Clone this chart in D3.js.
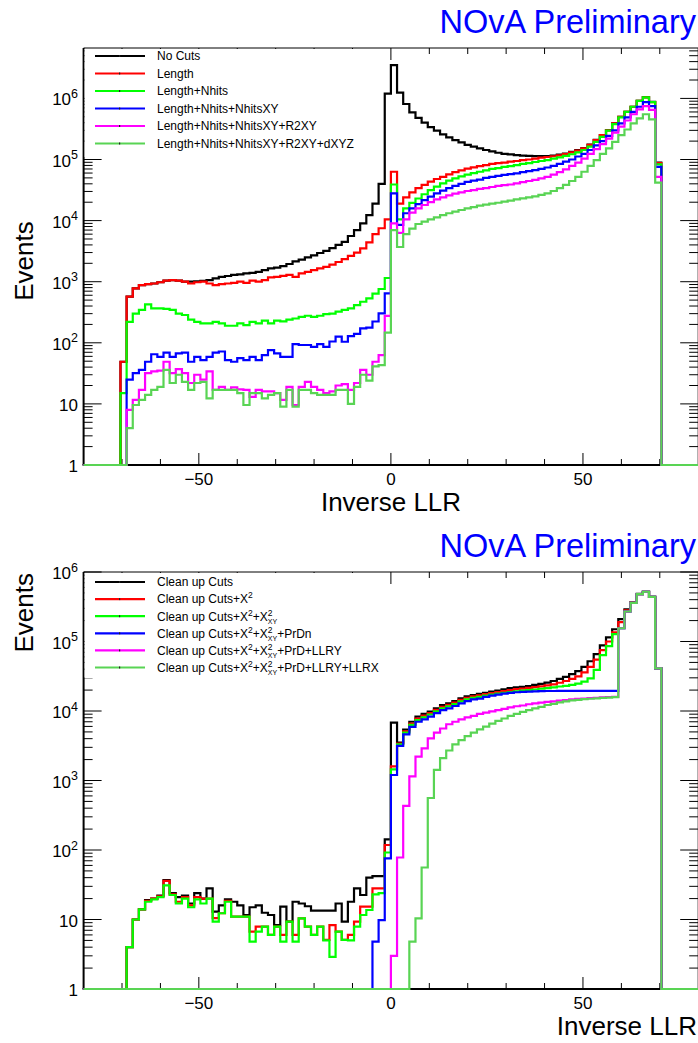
<!DOCTYPE html>
<html>
<head>
<meta charset="utf-8">
<title>Inverse LLR</title>
<script src="https://d3js.org/d3.v7.min.js"></script>
<style>
  body { margin: 0; background: #fff; }
  text { font-family: "Liberation Sans", Arial, Helvetica, sans-serif; }
</style>
</head>
<body>
<script>
// histogram binning: 100 bins from -80 to 80
var xMin = -80, xMax = 80, nBins = 100;

// ---- top pad : pre-selection cuts ----
var topLabels = ["No Cuts", "Length", "Length+Nhits", "Length+Nhits+NhitsXY",
  "Length+Nhits+NhitsXY+R2XY", "Length+Nhits+NhitsXY+R2XY+dXYZ"];
var topNoCuts = [0,0,0,0,0,0,49,570,780,880,
  915,935,980,1040,1060,1040,1000,1000,1010,1030,
  1060,1135,1200,1240,1290,1320,1370,1400,1450,1550,
  1650,1700,1800,1950,2150,2300,2500,2700,2950,3200,
  3550,4000,4500,5600,7000,9000,12300,19000,40000,1.2e6,
  3.5e6,1.24e6,8.1e5,5.9e5,4.8e5,4.0e5,3.4e5,2.96e5,2.58e5,2.3e5,
  2.08e5,1.9e5,1.74e5,1.62e5,1.52e5,1.43e5,1.36e5,1.29e5,1.24e5,1.21e5,
  1.18e5,1.16e5,1.15e5,1.14e5,1.14e5,1.14e5,1.16e5,1.2e5,1.25e5,1.33e5,
  1.42e5,1.54e5,1.76e5,2.1e5,2.52e5,3.02e5,3.92e5,5.0e5,6.0e5,7.3e5,
  9.1e5,1.05e6,8.8e5,89000,0,0,0,0,0,0];
var topLength = [0,0,0,0,0,0,49,570,780,880,
  915,935,980,1040,1060,1040,1000,935,980,1000,
  935,880,915,935,960,1000,960,1040,1000,1060,
  1180,1200,1250,1290,1200,1370,1450,1550,1650,1750,
  1900,2100,2350,2650,3000,3500,4400,6000,7500,10500,
  63000,19000,24000,29000,34000,38500,43500,48000,52000,57000,
  62000,66500,71000,74500,78000,81000,85000,87000,89000,92000,
  94500,98000,1.0e5,1.03e5,1.07e5,1.1e5,1.13e5,1.17e5,1.23e5,1.31e5,
  1.4e5,1.52e5,1.74e5,2.08e5,2.5e5,3.0e5,3.9e5,5.0e5,6.0e5,7.3e5,
  9.1e5,1.04e6,8.7e5,87000,0,0,0,0,0,0];
var topNhits = [0,0,0,0,0,0,15,220,300,345,
  425,365,365,360,345,300,285,240,220,208,
  208,220,208,190,190,208,195,220,208,230,
  208,230,225,240,250,265,277,265,277,295,
  300,325,345,365,415,470,535,640,760,1150,
  39000,10500,15800,19500,23000,27000,31600,36000,40700,45000,
  49000,53000,56500,60000,63000,66500,70000,72500,75500,78000,
  81000,85000,87500,91000,94500,98000,1.03e5,1.08e5,1.15e5,1.22e5,
  1.31e5,1.43e5,1.63e5,1.95e5,2.35e5,2.96e5,3.8e5,4.9e5,6.0e5,7.3e5,
  9.1e5,1.04e6,8.7e5,83000,0,0,0,0,0,0];
var topNhitsXY = [0,0,0,0,0,0,0,25,32,36,
  49,65,59,69,59,67,69,49,59,52,
  59,69,72,52,49,56,52,59,52,63,
  76,67,59,59,95,92,92,86,95,86,
  105,126,104,129,140,172,177,223,302,645,
  28000,8500,13200,15800,18600,21700,24600,28000,31000,34000,
  37000,40000,43000,45000,47000,50000,52000,54000,56000,57500,
  59500,62000,64500,67000,70000,74000,78500,85000,92000,1.0e5,
  1.12e5,1.24e5,1.43e5,1.7e5,2.0e5,2.43e5,3.0e5,3.9e5,4.9e5,6.0e5,
  7.3e5,8.7e5,7.5e5,76000,0,0,0,0,0,0];
var topR2XY = [0,0,0,0,0,0,0,8,11.6,17,
  32,34,35,49,32,37,32,22,30,25,
  34,17,19,17,18.7,17.3,17,13,17,16,
  16,15,11.6,19,9.6,19,23,19,17,15,
  16,20,21,17,22,36,30,49,63,275,
  9000,6300,10500,13500,15800,18000,20000,22300,24000,25900,
  27600,29000,30500,31600,33000,34000,35500,37000,38000,39000,
  40700,42500,44500,46500,49000,52000,56500,62000,69000,78500,
  89000,1.03e5,1.24e5,1.48e5,1.78e5,2.2e5,2.75e5,3.45e5,4.35e5,5.5e5,
  6.6e5,7.5e5,6.5e5,52000,0,0,0,0,0,0];
var topDXYZ = [0,0,0,0,0,0,0,4,9.6,11.6,
  14,17,19,36,22,30,23,17,22,23,
  12.3,17,17,17,17,15,9.6,15,15,12.3,
  14,15,9,17,9,17,17,15,14,14,
  14,17,17,10,19,30,24,41,43,147,
  7000,3700,6000,7400,8800,9600,10500,11300,12300,13200,
  14000,14900,15800,16600,17600,18200,19000,19600,20400,21300,
  22300,23100,24000,25000,26300,28000,30500,34000,38500,44500,
  52000,63000,78500,98000,1.24e5,1.52e5,1.95e5,2.5e5,3.1e5,3.9e5,
  4.7e5,5.5e5,4.55e5,42000,0,0,0,0,0,0];

// ---- bottom pad : PID cuts ----
var botLabels = ["Clean up Cuts", "Clean up Cuts+X^{2}", "Clean up Cuts+X^{2}+X^{2}_{XY}",
  "Clean up Cuts+X^{2}+X^{2}_{XY}+PrDn", "Clean up Cuts+X^{2}+X^{2}_{XY}+PrD+LLRY",
  "Clean up Cuts+X^{2}+X^{2}_{XY}+PrD+LLRY+LLRX"];
var botClean = [0,0,0,0,0,0,0,4,10,14,
  19,20,22,37,24,21,22,17,24,20,
  28,13,16,19.5,18,16,11.6,15,16,12.5,
  11.6,8.3,15.3,9.3,18,17,15.5,13.4,13.4,13.4,
  13.4,17,9.3,18,28,22.5,40,42,42,142,
  6800,3500,5400,7000,8300,9100,9800,10900,12200,12900,
  13900,15200,16200,17000,17600,18300,19000,19600,20500,21300,
  21900,22300,22900,23700,24500,25600,27000,29000,31000,34000,
  37500,43000,52000,66000,88000,1.15e5,1.5e5,2.1e5,2.9e5,3.7e5,
  4.85e5,5.2e5,4.4e5,41000,0,0,0,0,0,0];
var botChi2 = [0,0,0,0,0,0,0,4,10,14,
  18.5,20,21.5,36,23,18,21,16,21,20,
  20,10.5,12.3,18.5,11,11,11,6.7,7.9,7.9,
  6,7.9,6,9.3,6,10.4,7.9,6,7.9,5.1,
  8.3,6.7,5.1,6,9.3,15.3,15.3,28,28,118,
  1600,3400,5100,6600,7800,8600,9300,10400,11500,12300,
  13200,14500,15500,16200,16800,17500,18100,18700,19400,20000,
  20600,21000,21500,22000,22600,23300,24200,25500,27000,29000,
  31500,36000,43000,55000,75000,1.0e5,1.35e5,1.9e5,2.8e5,3.65e5,
  4.8e5,5.2e5,4.4e5,41000,0,0,0,0,0,0];
var botChi2XY = [0,0,0,0,0,0,0,4,10,14,
  18,19.5,21,31,22.5,17,20,15,19.5,17,
  20,9.3,12.3,18,11,11,11,4.8,6.7,7.9,
  6,7.9,4.8,9.3,4.8,10.4,7.9,6,7.9,5,
  2.9,6.7,5.1,5,7.9,11.6,13.7,23,24,92,
  1450,3300,4900,6300,7400,8100,8900,9900,10900,11700,
  12600,13800,14700,15400,16000,16600,17200,17800,18300,18700,
  19200,19600,20000,20400,20900,21400,21900,22500,23000,23800,
  24800,26500,29500,39000,63500,86000,1.28e5,1.55e5,2.7e5,3.6e5,
  4.8e5,5.2e5,4.4e5,41000,0,0,0,0,0,0];
var botPrDn = [0,0,0,0,0,0,0,0,0,0,
  0,0,0,0,0,0,0,0,0,0,
  0,0,0,0,0,0,0,0,0,0,
  0,0,0,0,0,0,0,0,0,0,
  0,0,0,0,0,0,0,4.8,9.8,76,
  1200,3150,4600,5900,7000,7600,8300,9300,10300,10900,
  11800,12900,13900,14700,15100,16000,16600,17200,17800,18200,
  18600,18800,19000,19200,19300,19400,19400,19500,19500,19500,
  19500,19500,19500,19500,19500,19500,19500,1.55e5,2.7e5,3.6e5,
  4.8e5,5.2e5,4.4e5,41000,0,0,0,0,0,0];
var botLLRY = [0,0,0,0,0,0,0,0,0,0,
  0,0,0,0,0,0,0,0,0,0,
  0,0,0,0,0,0,0,0,0,0,
  0,0,0,0,0,0,0,0,0,0,
  0,0,0,0,0,0,0,0,0,0,
  3,78,430,1150,2200,2900,4050,4900,5600,6450,
  7000,7600,8100,8500,9100,9500,9900,10300,10700,11300,
  11700,12000,12500,12900,13200,13500,13800,14100,14400,14700,
  14900,15100,15300,15500,15700,15900,16000,1.55e5,2.7e5,3.6e5,
  4.8e5,5.2e5,4.4e5,41000,0,0,0,0,0,0];
var botLLRX = [0,0,0,0,0,0,0,0,0,0,
  0,0,0,0,0,0,0,0,0,0,
  0,0,0,0,0,0,0,0,0,0,
  0,0,0,0,0,0,0,0,0,0,
  0,0,0,0,0,0,0,0,0,0,
  0,0,0,4.8,10.4,56,560,1420,2100,2700,
  3300,3800,4350,4900,5450,5950,6600,7200,7800,8500,
  9100,9700,10300,10900,11500,12200,12700,13300,13800,14200,
  14500,14800,15000,15200,15400,15600,15800,1.55e5,2.7e5,3.6e5,
  4.8e5,5.2e5,4.4e5,41000,0,0,0,0,0,0];

var colors = ["#000000", "#ff0000", "#00ff00", "#0000ff", "#ff00ff", "#59d454"];

var W = 698, H = 1043;
var frameL = 83.6, frameR = 698.2;
var binW = (xMax - xMin) / nBins;

var svg = d3.select("body").append("svg").attr("width", W).attr("height", H);
var x = d3.scaleLinear().domain([xMin, xMax]).range([frameL, frameR]);

function stepPoints(vals) {
  var pts = vals.map(function (v, i) { return { x: xMin + i * binW, v: v }; });
  pts.push({ x: xMax, v: vals[vals.length - 1] });
  return pts;
}

// ROOT-like latex: ^{..} superscript, ^{..}_{..} stacked
function richText(sel, str) {
  var re = /\^\{([^}]*)\}(?:_\{([^}]*)\})?|[^^]+/g, m, shift = 0;
  while ((m = re.exec(str))) {
    if (m[1] === undefined) {
      sel.append("tspan").attr("dy", -shift).text(m[0]);
      shift = 0;
    } else {
      sel.append("tspan").attr("font-size", 8.5).attr("dy", -5 - shift).text(m[1]);
      shift = -5;
      if (m[2] !== undefined) {
        sel.append("tspan").attr("font-size", 7).attr("dx", -4.7).attr("dy", 8.5).text(m[2]);
        shift = 3.5;
      }
    }
  }
}

function drawPanel(p) {
  var y = d3.scaleLog().domain([1, p.yMax]).range([p.bottom, p.top]).clamp(true);
  var g = svg.append("g");

  // frame
  g.append("line").attr("x1", frameL).attr("x2", frameR).attr("y1", p.top).attr("y2", p.top)
    .attr("stroke", "#000").attr("stroke-width", 1);
  g.append("line").attr("x1", frameR).attr("x2", frameR).attr("y1", p.top).attr("y2", p.bottom)
    .attr("stroke", "#000").attr("stroke-width", 1);
  g.append("line").attr("x1", frameL - 1).attr("x2", frameR).attr("y1", p.bottom).attr("y2", p.bottom)
    .attr("stroke", "#000").attr("stroke-width", 2);
  g.append("line").attr("x1", frameL).attr("x2", frameL).attr("y1", p.top).attr("y2", p.bottom)
    .attr("stroke", "#000").attr("stroke-width", 2);

  // x ticks (bottom + top)
  x.ticks(16).forEach(function (v) {
    if (v <= xMin || v >= xMax) return;
    var big = v % 50 === 0, len = big ? 12 : 6, xx = x(v);
    g.append("line").attr("x1", xx).attr("x2", xx).attr("y1", p.bottom).attr("y2", p.bottom - len)
      .attr("stroke", "#000").attr("stroke-width", 1);
    g.append("line").attr("x1", xx).attr("x2", xx).attr("y1", p.top).attr("y2", p.top + len)
      .attr("stroke", "#000").attr("stroke-width", 1);
    if (big) {
      g.append("text").attr("x", xx).attr("y", p.bottom + 20).attr("text-anchor", "middle")
        .attr("font-size", 17).text(v < 0 ? "\u2212" + Math.abs(v) : v);
    }
  });

  // y ticks (left + right)
  y.ticks().forEach(function (v) {
    var e = Math.log10(v), big = Math.abs(e - Math.round(e)) < 1e-6;
    var len = big ? 18 : 9, yy = y(v);
    if (yy < p.top - 0.5) return;
    g.append("line").attr("x1", frameL).attr("x2", frameL + len).attr("y1", yy).attr("y2", yy)
      .attr("stroke", "#000").attr("stroke-width", 1);
    g.append("line").attr("x1", frameR).attr("x2", frameR - len).attr("y1", yy).attr("y2", yy)
      .attr("stroke", "#000").attr("stroke-width", 1);
    if (big) {
      e = Math.round(e);
      var t = g.append("text").attr("x", 78).attr("y", yy + 7).attr("text-anchor", "end")
        .attr("font-size", 17);
      if (e === 0) t.text("1");
      else if (e === 1) t.text("10");
      else {
        t.append("tspan").text("10");
        t.append("tspan").attr("font-size", 12.5).attr("dy", -7.5).text(e);
      }
    }
  });

  // histograms
  var line = d3.line()
    .x(function (d) { return x(d.x); })
    .y(function (d) { return y(Math.max(d.v, 1)); })
    .curve(d3.curveStepAfter);
  p.series.forEach(function (vals, i) {
    g.append("path").attr("d", line(stepPoints(vals))).attr("fill", "none")
      .attr("stroke", colors[i]).attr("stroke-width", 2.2);
  });

  // legend
  g.append("rect").attr("x", frameL + 1).attr("y", p.top + 1)
    .attr("width", p.legW).attr("height", p.legH).attr("fill", "#fff");
  p.labels.forEach(function (lab, i) {
    var ly = p.legY0 + i * p.legDy;
    g.append("line").attr("x1", 95).attr("x2", 145).attr("y1", ly).attr("y2", ly)
      .attr("stroke", colors[i]).attr("stroke-width", 2.2);
    g.append("rect").attr("x", 119).attr("y", ly - 1).attr("width", 1.2).attr("height", 2)
      .attr("fill", "#222");
    var t = g.append("text").attr("x", 157).attr("y", ly + 4.3).attr("font-size", 12);
    richText(t, lab);
  });

  // titles
  g.append("text").attr("x", 696).attr("y", p.top - 15).attr("text-anchor", "end")
    .attr("font-size", 32.5).attr("fill", "#0000ff").text("NOvA Preliminary");
  g.append("text").attr("x", p.xTitleX).attr("y", p.xTitleY).attr("text-anchor", p.xTitleAnchor)
    .attr("font-size", 26).text("Inverse LLR");
  g.append("text").attr("transform", "translate(33," + p.yTitleY + ") rotate(-90)")
    .attr("text-anchor", p.yTitleAnchor).attr("font-size", 26).text("Events");
}

drawPanel({
  top: 48, bottom: 465, yMax: Math.pow(10, 6.825),
  series: [topNoCuts, topLength, topNhits, topNhitsXY, topR2XY, topDXYZ],
  labels: topLabels, legY0: 56, legDy: 17.5, legW: 294, legH: 108,
  xTitleX: 391, xTitleY: 511, xTitleAnchor: "middle",
  yTitleY: 261, yTitleAnchor: "middle"
});

drawPanel({
  top: 572, bottom: 989, yMax: 1e6,
  series: [botClean, botChi2, botChi2XY, botPrDn, botLLRY, botLLRX],
  labels: botLabels, legY0: 582, legDy: 17.1, legW: 304, legH: 105,
  xTitleX: 697, xTitleY: 1035, xTitleAnchor: "end",
  yTitleY: 573, yTitleAnchor: "end"
});
</script>
</body>
</html>
